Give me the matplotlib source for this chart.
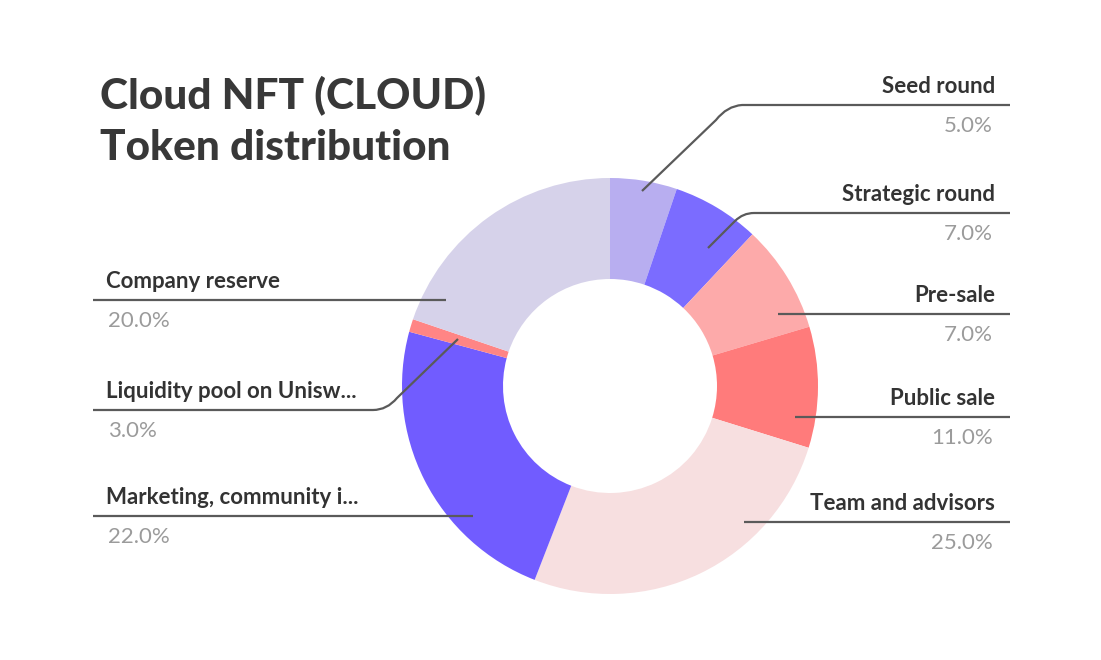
import matplotlib.pyplot as plt
from matplotlib.path import Path
from matplotlib.patches import PathPatch

# slice names, printed percentages and the slice shares as drawn in the picture
names = ["Seed round", "Strategic round", "Pre-sale", "Public sale",
         "Team and advisors", "Marketing, community i...",
         "Liquidity pool on Unisw...", "Company reserve"]
pct_labels = [5.0, 7.0, 7.0, 11.0, 25.0, 22.0, 3.0, 20.0]
shares = [5.2, 6.8, 8.4, 9.4, 26.1, 23.3, 1.0, 19.8]
colors = ["#b8aef0", "#7b6cff", "#fdaaaa", "#ff7b7b",
          "#f7dfe0", "#715cff", "#ff8585", "#d6d2ea"]

W, H = 1101, 660


def Y(p):
    # pixel row (top-down) -> data y (bottom-up)
    return H - p


fig = plt.figure(figsize=(W / 100, H / 100), dpi=100)
ax = fig.add_axes([0, 0, 1, 1])

ax.pie(shares, colors=colors, startangle=90, counterclock=False,
       radius=208, center=(610, Y(386)),
       wedgeprops=dict(width=101, edgecolor="none", linewidth=0))
ax.set_xlim(0, W)
ax.set_ylim(0, H)
ax.set_aspect("equal")
ax.axis("off")

# leader lines: (start inside slice, bend, end of horizontal)
line_col = "#5a5a5a"


def leader(pts):
    verts = [(x, Y(y)) for x, y in pts]
    codes = [Path.MOVETO] + [Path.LINETO] * (len(verts) - 1)
    if len(verts) == 5:
        codes = [Path.MOVETO, Path.LINETO, Path.CURVE3, Path.CURVE3, Path.LINETO]
    ax.add_patch(PathPatch(Path(verts, codes), fill=False,
                           edgecolor=line_col, lw=1.6, capstyle="butt"))


# right side
leader([(642, 191), (716, 120), (727, 106), (742, 105), (1010, 105)])
leader([(708, 248), (735, 221), (743, 213), (754, 213), (1010, 213)])
leader([(778, 314), (1010, 314)])
leader([(795, 417), (1010, 417)])
leader([(744, 522), (1010, 522)])
# left side
leader([(446, 300), (93, 300)])
leader([(458, 339), (397, 398), (387, 410), (373, 410), (93, 410)])
leader([(473, 516), (93, 516)])

label_lines = [105, 213, 314, 417, 522, 516, 410, 300]
right = [True, True, True, True, True, False, False, False]

name_col = "#333333"
pct_col = "#9b9b9b"
for name, pct, ly, r in zip(names, pct_labels, label_lines, right):
    if r:
        ax.text(995, Y(ly - 12), name, ha="right", va="baseline",
                fontsize=16, fontweight="bold", family="Lato", color=name_col)
        ax.text(993, Y(ly + 27), f"{pct:.1f}%", ha="right", va="baseline",
                fontsize=16, family="Lato", color=pct_col)
    else:
        ax.text(106, Y(ly - 12), name, ha="left", va="baseline",
                fontsize=16, fontweight="bold", family="Lato", color=name_col)
        ax.text(108, Y(ly + 27), f"{pct:.1f}%", ha="left", va="baseline",
                fontsize=16, family="Lato", color=pct_col)

ax.text(100, Y(108), "Cloud NFT (CLOUD)", ha="left", va="baseline",
        fontsize=30.5, fontweight="black", family="Lato", color="#383838")
ax.text(100, Y(160), "Token distribution", ha="left", va="baseline",
        fontsize=30.5, fontweight="black", family="Lato", color="#383838")

fig.savefig("out.png", dpi=100, facecolor="white")
